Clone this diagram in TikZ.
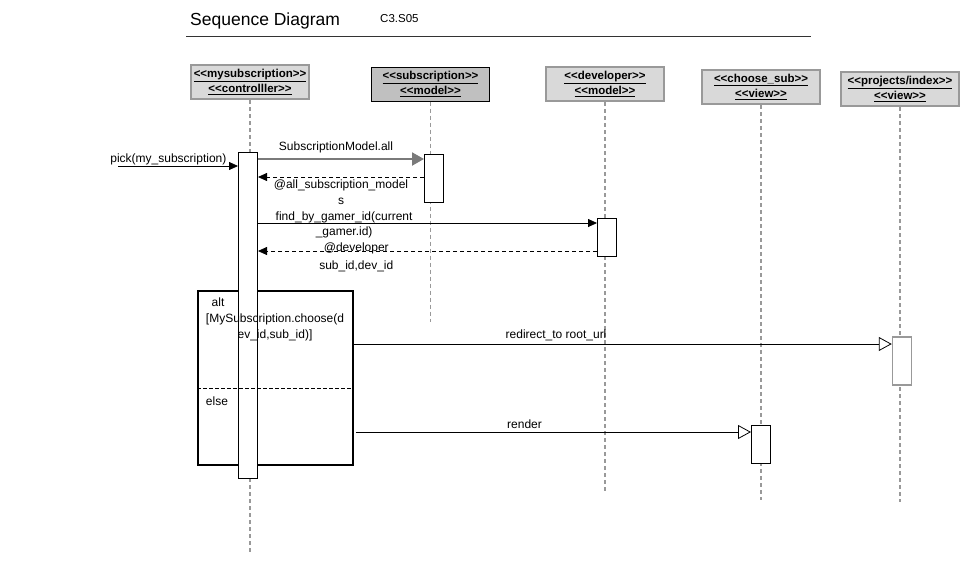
\documentclass[tikz,border=0pt]{standalone}
\usepackage{fontspec}
\setmainfont{Liberation Sans}
\usetikzlibrary{arrows.meta, positioning}
\definecolor{headfill}{HTML}{D9D9D9}
\definecolor{modelfill}{HTML}{C0C0C0}
\definecolor{headline}{HTML}{999999}
\newcommand{\msgfont}{\fontsize{12}{15}\selectfont}
\newcommand{\headfont}{\fontsize{11.5}{15}\selectfont\bfseries}
\newcommand{\stereo}[2]{\underline{<{}<#1>{}>}\\\underline{<{}<#2>{}>}}
\tikzset{
	head/.style={draw=headline, line width=2pt, fill=headfill, minimum width=118pt,
		minimum height=34pt, align=center, font=\headfont, inner sep=1pt},
	life/.style={draw=headline, line width=1.5pt, dash pattern=on 4pt off 3pt},
	act/.style={draw, fill=white, line width=1pt, minimum width=19pt, inner sep=0pt},
	call/.style={line width=0.8pt, -{Triangle[length=9pt, width=8pt]}},
	back/.style={line width=0.8pt, dash pattern=on 4pt off 3pt, -{Triangle[length=9pt, width=8pt]}},
	send/.style={line width=0.8pt, -{Triangle[open, length=13pt, width=14pt, fill=white]}},
	lbl/.style={font=\msgfont, inner sep=1pt, align=center},
	>=latex
}
\begin{document}
\begin{tikzpicture}[x=1pt, y=-1pt]
	% IMAGE SIZE
	\useasboundingbox (0,0) rectangle (980,574);

	% Title
	\node[anchor=base west, inner sep=0pt, font=\fontsize{17.5}{20}\selectfont] (title) at (190,25) {Sequence Diagram};
	\node[anchor=base west, inner sep=0pt, font=\fontsize{11.5}{14}\selectfont] (code) at (380,22) {C3.S05};
	\draw[line width=0.8pt, black!80] (186,36) -- (811,36);

	% Heads
	\node[head] (hC) at (250,82) {\stereo{mysubscription}{controlller}};
	\node[head, fill=modelfill, draw=black, line width=1pt] (hS) at (430.5,84) {\stereo{subscription}{model}};
	\node[head] (hD) at (605,84) {\stereo{developer}{model}};
	\node[head] (hV) at (761,87) {\stereo{choose\_sub}{view}};
	\node[head] (hP) at (900,89) {\stereo{projects/index}{view}};

	% Lifelines
	\draw[life] (hC.south) -- (hC.south |- 0,553);
	\draw[life] (hS.south) -- (hS.south |- 0,322);
	\draw[life] (hD.south) -- (hD.south |- 0,492);
	\draw[life] (hV.south) -- (hV.south |- 0,500);
	\draw[life] (hP.south) -- (hP.south |- 0,502);

	% alt frame
	\node[draw, line width=1.6pt, minimum width=155pt, minimum height=174pt, inner sep=0pt] (alt) at (275.5,378) {};

	% Activations
	\node[act, minimum height=326pt] (aC) at (248,315) {};
	\node[act, minimum height=48pt] (aS) at (434,178) {};
	\node[act, minimum height=38pt] (aD) at (607,237) {};
	\node[act, minimum height=38pt] (aV) at (761,444.5) {};
	\node[act, draw=headline, line width=1.5pt, minimum height=48pt] (aP) at (902,361) {};

	% alt texts
	\draw[line width=0.8pt, dash pattern=on 4pt off 2pt] (alt.west |- 0,388) -- (alt.east |- 0,388);
	\node[lbl] (altlbl) at (218,302) {alt};
	\node[lbl, font=\fontsize{12}{16}\selectfont] (guard) at (275,327) {[MySubscription.choose(d\\ev\_id,sub\_id)]};
	\node[lbl] (elselbl) at (217,401) {else};

	% Messages
	\coordinate (start) at (118,166);
	\draw[call] (start) -- (aC.west |- start) node[lbl, pos=0.42, above] {pick(my\_subscription)};
	\draw[line width=2pt, headline!80!black, -{Triangle[length=12pt, width=13pt]}] (aC.east |- 0,159) -- (aS.west |- 0,159)
		node[lbl, pos=0.47, above=4pt, text=black] {SubscriptionModel.all};
	\draw[back] (aS.west |- 0,177) -- (aC.east |- 0,177)
		node[lbl, midway, below=1pt, font=\fontsize{12}{16}\selectfont] {@all\_subscription\_model\\s};
	\draw[call] (aC.east |- 0,223) -- (aD.west |- 0,223)
		node[lbl, pos=0.254, yshift=-2pt, font=\fontsize{12}{15}\selectfont] {find\_by\_gamer\_id(current\\\_gamer.id)};
	\draw[back] (aD.west |- 0,251) -- (aC.east |- 0,251)
		node[lbl, pos=0.71, font=\fontsize{12}{18}\selectfont, yshift=-6pt] {@developer\\sub\_id,dev\_id};
	\draw[send] (alt.east |- 0,344) -- (aP.west |- 0,344)
		node[lbl, pos=0.376, above=2pt] {redirect\_to root\_url};
	\draw[send] (alt.east |- 0,432) ++(2,0) -- (aV.west |- 0,432)
		node[lbl, pos=0.427, above=2pt] {render};
\end{tikzpicture}
\end{document}
